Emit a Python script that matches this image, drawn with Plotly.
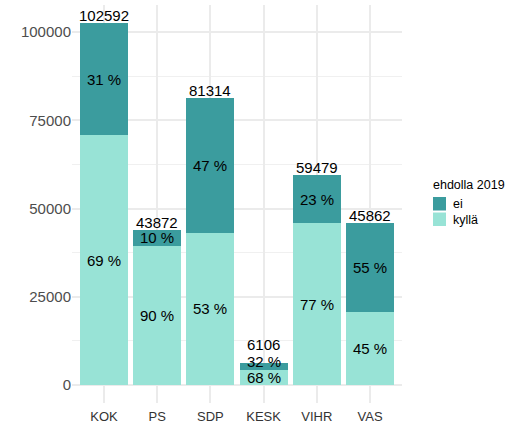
import plotly.graph_objects as go

parties = ["KOK", "PS", "SDP", "KESK", "VIHR", "VAS"]
totals = [102592, 43872, 81314, 6106, 59479, 45862]
kylla = [70788, 39485, 43096, 4152, 45799, 20638]
ei = [t - k for t, k in zip(totals, kylla)]

col_ei = "#3b9c9e"
col_kylla = "#98e3d6"
font_fam = "Liberation Sans, Arial, sans-serif"

W, H = 515, 424
L, R, T, B = 72, 113, 5, 21
pw, ph = W - L - R, H - T - B

# small pixel nudges to keep crowded labels (short bar) readable, as in the reference
label_nudge_total = {"KESK": 11}
label_nudge_ei = {"KESK": 5}


def px(xp):
    return (xp - L) / pw


def py(yp):
    return (H - B - yp) / ph


fig = go.Figure()
fig.add_trace(go.Bar(x=parties, y=kylla, name="kyllä", marker=dict(color=col_kylla, line=dict(width=0)), width=0.9, showlegend=False))
fig.add_trace(go.Bar(x=parties, y=ei, name="ei", marker=dict(color=col_ei, line=dict(width=0)), width=0.9, showlegend=False))

ann = []
lab_font = dict(size=15, color="black", family=font_fam)
for p, t, k, e in zip(parties, totals, kylla, ei):
    pk = round(100 * k / t)
    pe = round(100 * e / t)
    ann.append(dict(x=p, y=k / 2, text=f"{pk} %", showarrow=False, font=lab_font))
    ann.append(dict(x=p, y=k + e / 2, text=f"{pe} %", showarrow=False, font=lab_font,
                    yshift=label_nudge_ei.get(p, 0)))
    ann.append(dict(x=p, y=t, text=f"{t}", showarrow=False, yanchor="bottom",
                    yshift=-3 + label_nudge_total.get(p, 0), font=lab_font))

# legend (drawn manually to match ggplot layout)
legend_title = "ehdolla 2019"
legend_items = [("ei", col_ei), ("kyllä", col_kylla)]
ann.append(dict(xref="paper", yref="paper", x=px(431), y=py(185), xanchor="left", yanchor="middle",
                text=legend_title, showarrow=False, font=dict(size=12.5, color="black", family=font_fam)))
shapes = []
for i, (lab, col) in enumerate(legend_items):
    y0 = 197 + i * 15.5
    shapes.append(dict(type="rect", xref="paper", yref="paper", x0=px(433), x1=px(446), y0=py(y0), y1=py(y0 + 13.5),
                       fillcolor=col, line=dict(width=0)))
    ann.append(dict(xref="paper", yref="paper", x=px(451), y=py(y0 + 7), xanchor="left", yanchor="middle",
                    text=lab, showarrow=False, font=dict(size=12.5, color="black", family=font_fam)))

M = max(totals)
fig.update_layout(
    barmode="stack",
    width=W, height=H,
    margin=dict(l=L, r=R, t=T, b=B, autoexpand=False),
    plot_bgcolor="white", paper_bgcolor="white",
    font=dict(family=font_fam),
    annotations=ann,
    shapes=shapes,
    showlegend=False,
    xaxis=dict(
        range=[-0.6, 5.6], automargin=False,
        showgrid=True, gridcolor="#ebebeb", gridwidth=1.5,
        showline=False, zeroline=False, ticks="",
        tickfont=dict(size=13, color="#333333"),
        ticklabelstandoff=4,
        fixedrange=True,
    ),
    yaxis=dict(
        range=[-0.05 * M, 1.05 * M], automargin=False,
        tickvals=[0, 25000, 50000, 75000, 100000],
        ticktext=["0", "25000", "50000", "75000", "100000"],
        showgrid=True, gridcolor="#ebebeb", gridwidth=1.5,
        minor=dict(tickvals=[12500, 37500, 62500, 87500], showgrid=True, gridcolor="#f0f0f0", gridwidth=1),
        zeroline=False, showline=False, ticks="",
        tickfont=dict(size=15, color="#4d4d4d"),
    ),
)

fig.write_html("out.html", config={"displayModeBar": False},
               post_script="document.body.style.margin='0';")
